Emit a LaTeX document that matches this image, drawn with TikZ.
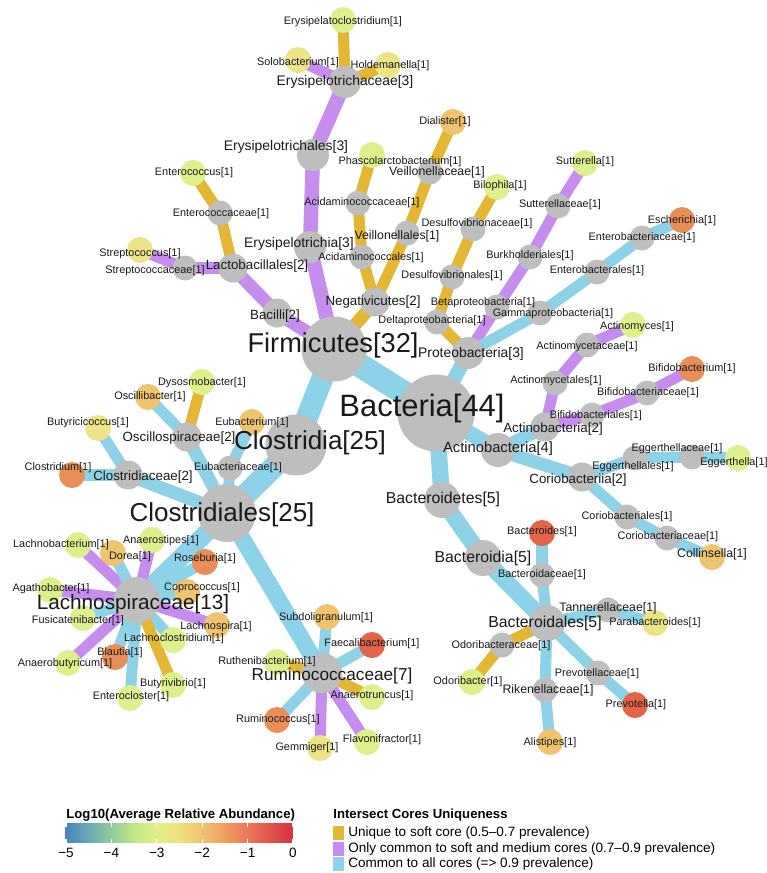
\documentclass[tikz,border=0pt]{standalone}
\usepackage{fontspec}
\setmainfont{Liberation Sans}
\usetikzlibrary{backgrounds}

\definecolor{nodegrey}{RGB}{190,190,190}
\definecolor{softcol}{RGB}{228,182,52}
\definecolor{medcol}{RGB}{198,140,240}
\definecolor{allcol}{RGB}{140,210,232}
\definecolor{abA}{RGB}{222,240,140}
\definecolor{abB}{RGB}{236,228,135}
\definecolor{abC}{RGB}{240,195,110}
\definecolor{abD}{RGB}{234,142,88}
\definecolor{abE}{RGB}{228,100,72}
\pgfdeclarehorizontalshading{abundance}{100bp}{rgb(0bp)=(0.27,0.52,0.75); rgb(25bp)=(0.27,0.52,0.75); rgb(30bp)=(0.40,0.66,0.72); rgb(35bp)=(0.55,0.80,0.60); rgb(40bp)=(0.75,0.90,0.52); rgb(45bp)=(0.88,0.94,0.54); rgb(50bp)=(0.94,0.88,0.48); rgb(55bp)=(0.95,0.76,0.44); rgb(60bp)=(0.94,0.62,0.38); rgb(65bp)=(0.92,0.47,0.34); rgb(70bp)=(0.88,0.33,0.29); rgb(75bp)=(0.84,0.20,0.25); rgb(100bp)=(0.84,0.20,0.25)}

\begin{document}
\begin{tikzpicture}[
    x=0.02cm, y=-0.02cm,
    taxon/.style={circle, inner sep=0pt, draw=none},
    g1/.style={taxon, fill=nodegrey, minimum size=0.5cm},
    g2/.style={taxon, fill=nodegrey, minimum size=0.58cm},
    g3/.style={taxon, fill=nodegrey, minimum size=0.64cm},
    g4/.style={taxon, fill=nodegrey, minimum size=0.68cm},
    g5/.style={taxon, fill=nodegrey, minimum size=0.72cm},
    g7/.style={taxon, fill=nodegrey, minimum size=0.8cm},
    g13/.style={taxon, fill=nodegrey, minimum size=0.92cm},
    g25/.style={taxon, fill=nodegrey, minimum size=1.22cm},
    g32/.style={taxon, fill=nodegrey, minimum size=1.3cm},
    g44/.style={taxon, fill=nodegrey, minimum size=1.54cm},
    leaf/.style={taxon, minimum size=0.52cm},
    leafA/.style={leaf, fill=abA},
    leafB/.style={leaf, fill=abB},
    leafC/.style={leaf, fill=abC},
    leafD/.style={leaf, fill=abD},
    leafE/.style={leaf, fill=abE},
    lab/.style={inner sep=0pt, text=black!90},
    t1/.style={lab, font=\fontsize{6.2}{7}\selectfont},
    t1b/.style={lab, font=\fontsize{7}{8}\selectfont},
    t2/.style={lab, font=\fontsize{7.6}{9}\selectfont},
    t3/.style={lab, font=\fontsize{7.9}{9}\selectfont},
    t4/.style={lab, font=\fontsize{8.4}{10}\selectfont},
    t5/.style={lab, font=\fontsize{9}{11}\selectfont},
    t7/.style={lab, font=\fontsize{9.8}{12}\selectfont},
    t13/.style={lab, font=\fontsize{11.8}{14}\selectfont},
    t25/.style={lab, font=\fontsize{14.8}{17}\selectfont},
    t32/.style={lab, font=\fontsize{15.5}{18}\selectfont},
    t44/.style={lab, font=\fontsize{17.6}{20}\selectfont},
    soft/.style={draw=softcol},
    medium/.style={draw=medcol},
    common/.style={draw=allcol},
    e1/.style={line width=6.3pt},
    e2/.style={line width=7.4pt},
    e3/.style={line width=8.2pt},
    e4/.style={line width=8.8pt},
    e5/.style={line width=9.4pt},
    e7/.style={line width=9.6pt},
    e13/.style={line width=10.4pt},
    e25/.style={line width=12.5pt},
    e32/.style={line width=13.7pt},
    legtitle/.style={inner sep=0pt, font=\bfseries\fontsize{7.5}{9}\selectfont},
    legtext/.style={inner sep=0pt, font=\fontsize{7.7}{9}\selectfont},
    legkey/.style={rectangle, inner sep=0pt, minimum width=0.22cm, minimum height=0.28cm}
]
\useasboundingbox (0,0) rectangle (767,873);

% kingdom and phyla
\node[g44] (bacteria) at (436,413) {};
\node[g32] (firmicutes) at (334,349) {};
\node[g3] (proteobacteria) at (468,353) {};
\node[g4] (actinobacteria) at (498,450) {};
\node[g5] (bacteroidetes) at (442,500) {};

% Clostridia
\node[g25] (clostridia) at (296,445) {};
\node[g25, minimum size=1.16cm] (clostridiales) at (227,513) {};
\node[g13] (lachnospiraceae) at (137,600) {};
\node[g7] (ruminococcaceae) at (322,673) {};
\node[g2] (oscillospiraceae) at (187,437) {};
\node[g2] (clostridiaceae) at (128,475) {};
\node[g1] (eubacteriaceae) at (230,468) {};
\node[leafC] (eubacterium) at (252,422) {};
\node[leafC] (oscillibacter) at (148,397) {};
\node[leafA] (dysosmobacter) at (202,382) {};
\node[leafB] (butyricicoccus) at (98,428) {};
\node[leafD] (clostridium) at (72,475) {};

% Lachnospiraceae genera
\node[leafA] (lachnobacterium) at (78,545) {};
\node[leafC] (dorea) at (113,553) {};
\node[leafA] (anaerostipes) at (152,540) {};
\node[leafD] (roseburia) at (205,562) {};
\node[leafA] (agathobacter) at (50,590) {};
\node[leafC] (coprococcus) at (187,592) {};
\node[leafA] (fusicatenibacter) at (83,618) {};
\node[leafC] (lachnospira) at (217,625) {};
\node[leafA] (lachnoclostridium) at (173,640) {};
\node[leafD] (blautia) at (115,657) {};
\node[leafA] (anaerobutyricum) at (68,663) {};
\node[leafA] (butyrivibrio) at (173,685) {};
\node[leafA] (enterocloster) at (130,698) {};

% Ruminococcaceae genera
\node[leafC] (subdoligranulum) at (327,617) {};
\node[leafE] (faecalibacterium) at (372,645) {};
\node[leafA] (ruthenibacterium) at (277,662) {};
\node[leafA] (anaerotruncus) at (372,697) {};
\node[leafD] (ruminococcus) at (277,720) {};
\node[leafB] (gemmiger) at (320,748) {};
\node[leafA] (flavonifractor) at (367,742) {};

% Bacilli
\node[g2] (bacilli) at (277,313) {};
\node[g2] (lactobacillales) at (233,268) {};
\node[g1] (streptococcaceae) at (185,268) {};
\node[leafB] (streptococcus) at (140,250) {};
\node[g1] (enterococcaceae) at (220,213) {};
\node[leafA] (enterococcus) at (193,173) {};

% Erysipelotrichia
\node[g3] (erysipelotrichia) at (310,247) {};
\node[g3] (erysipelotrichales) at (313,155) {};
\node[g3] (erysipelotrichaceae) at (345,82) {};
\node[leafB] (solobacterium) at (298,60) {};
\node[leafB] (holdemanella) at (388,65) {};
\node[leafA] (erysipelatoclostridium) at (343,20) {};

% Negativicutes
\node[g2] (negativicutes) at (375,302) {};
\node[g1] (acidaminococcales) at (362,257) {};
\node[g1] (acidaminococcaceae) at (358,203) {};
\node[leafA] (phascolarctobacterium) at (372,155) {};
\node[g1] (veillonellales) at (407,233) {};
\node[g1] (veillonellaceae) at (430,172) {};
\node[leafC] (dialister) at (453,122) {};

% Proteobacteria
\node[g1] (deltaproteobacteria) at (437,322) {};
\node[g1] (desulfovibrionales) at (452,277) {};
\node[g1] (desulfovibrionaceae) at (473,229) {};
\node[leafA] (bilophila) at (497,187) {};
\node[g1] (betaproteobacteria) at (497,307) {};
\node[g1] (burkholderiales) at (530,257) {};
\node[g1] (sutterellaceae) at (558,206) {};
\node[leafA] (sutterella) at (585,163) {};
\node[g1] (gammaproteobacteria) at (540,313) {};
\node[g1] (enterobacterales) at (597,272) {};
\node[g1] (enterobacteriaceae) at (642,238) {};
\node[leafD] (escherichia) at (682,220) {};

% Actinobacteria
\node[g2] (actinobacteriia) at (545,427) {};
\node[g1] (actinomycetales) at (555,383) {};
\node[g1] (actinomycetaceae) at (587,345) {};
\node[leafA] (actinomyces) at (633,325) {};
\node[g1] (bifidobacteriales) at (592,415) {};
\node[g1] (bifidobacteriaceae) at (647,393) {};
\node[leafD] (bifidobacterium) at (692,369) {};
\node[g2] (coriobacteriia) at (582,477) {};
\node[g1] (eggerthellales) at (635,458) {};
\node[g1] (eggerthellaceae) at (692,457) {};
\node[leafA] (eggerthella) at (738,458) {};
\node[g1] (coriobacteriales) at (627,517) {};
\node[g1] (coriobacteriaceae) at (667,538) {};
\node[leafC] (collinsella) at (712,557) {};

% Bacteroidetes
\node[g5] (bacteroidia) at (483,558) {};
\node[g5] (bacteroidales) at (547,623) {};
\node[g1] (bacteroidaceae) at (542,575) {};
\node[leafE] (bacteroides) at (542,533) {};
\node[g1] (tannerellaceae) at (608,610) {};
\node[leafB] (parabacteroides) at (655,623) {};
\node[g1] (odoribacteraceae) at (502,645) {};
\node[leafA] (odoribacter) at (472,682) {};
\node[g1] (rikenellaceae) at (545,690) {};
\node[leafC] (alistipes) at (550,742) {};
\node[g1] (prevotellaceae) at (598,673) {};
\node[leafE] (prevotella) at (635,705) {};

\begin{scope}[on background layer]
\draw[common, e32] (bacteria.center) -- (firmicutes.center);
\draw[common, e3] (bacteria.center) -- (proteobacteria.center);
\draw[common, e4] (bacteria.center) -- (actinobacteria.center);
\draw[common, e5] (bacteria.center) -- (bacteroidetes.center);
\draw[common, e25] (firmicutes.center) -- (clostridia.center);
\draw[common, e25] (clostridia.center) -- (clostridiales.center);
\draw[common, e13] (clostridiales.center) -- (lachnospiraceae.center);
\draw[common, e7] (clostridiales.center) -- (ruminococcaceae.center);
\draw[common, e2] (clostridiales.center) -- (oscillospiraceae.center);
\draw[common, e2] (clostridiales.center) -- (clostridiaceae.center);
\draw[common, e1] (clostridiales.center) -- (eubacteriaceae.center);
\draw[common, e1] (eubacteriaceae.center) -- (eubacterium.center);
\draw[common, e1] (oscillospiraceae.center) -- (oscillibacter.center);
\draw[soft, e1] (oscillospiraceae.center) -- (dysosmobacter.center);
\draw[common, e1] (clostridiaceae.center) -- (butyricicoccus.center);
\draw[common, e1] (clostridiaceae.center) -- (clostridium.center);
\draw[medium, e1] (lachnospiraceae.center) -- (lachnobacterium.center);
\draw[common, e1] (lachnospiraceae.center) -- (dorea.center);
\draw[medium, e1] (lachnospiraceae.center) -- (anaerostipes.center);
\draw[common, e1] (lachnospiraceae.center) -- (roseburia.center);
\draw[medium, e1] (lachnospiraceae.center) -- (agathobacter.center);
\draw[common, e1] (lachnospiraceae.center) -- (coprococcus.center);
\draw[common, e1] (lachnospiraceae.center) -- (fusicatenibacter.center);
\draw[medium, e1] (lachnospiraceae.center) -- (lachnospira.center);
\draw[common, e1] (lachnospiraceae.center) -- (lachnoclostridium.center);
\draw[common, e1] (lachnospiraceae.center) -- (blautia.center);
\draw[medium, e1] (lachnospiraceae.center) -- (anaerobutyricum.center);
\draw[soft, e1] (lachnospiraceae.center) -- (butyrivibrio.center);
\draw[common, e1] (lachnospiraceae.center) -- (enterocloster.center);
\draw[common, e1] (ruminococcaceae.center) -- (subdoligranulum.center);
\draw[common, e1] (ruminococcaceae.center) -- (faecalibacterium.center);
\draw[soft, e1] (ruminococcaceae.center) -- (ruthenibacterium.center);
\draw[soft, e1] (ruminococcaceae.center) -- (anaerotruncus.center);
\draw[common, e1] (ruminococcaceae.center) -- (ruminococcus.center);
\draw[medium, e1] (ruminococcaceae.center) -- (gemmiger.center);
\draw[medium, e1] (ruminococcaceae.center) -- (flavonifractor.center);
\draw[medium, e2] (firmicutes.center) -- (bacilli.center);
\draw[medium, e2] (bacilli.center) -- (lactobacillales.center);
\draw[medium, e1] (lactobacillales.center) -- (streptococcaceae.center);
\draw[medium, e1] (streptococcaceae.center) -- (streptococcus.center);
\draw[soft, e1] (lactobacillales.center) -- (enterococcaceae.center);
\draw[soft, e1] (enterococcaceae.center) -- (enterococcus.center);
\draw[medium, e3] (firmicutes.center) -- (erysipelotrichia.center);
\draw[medium, e3] (erysipelotrichia.center) -- (erysipelotrichales.center);
\draw[medium, e3] (erysipelotrichales.center) -- (erysipelotrichaceae.center);
\draw[medium, e1] (erysipelotrichaceae.center) -- (solobacterium.center);
\draw[soft, e1] (erysipelotrichaceae.center) -- (holdemanella.center);
\draw[soft, e1] (erysipelotrichaceae.center) -- (erysipelatoclostridium.center);
\draw[soft, e2] (firmicutes.center) -- (negativicutes.center);
\draw[soft, e1] (negativicutes.center) -- (acidaminococcales.center);
\draw[soft, e1] (acidaminococcales.center) -- (acidaminococcaceae.center);
\draw[soft, e1] (acidaminococcaceae.center) -- (phascolarctobacterium.center);
\draw[soft, e1] (negativicutes.center) -- (veillonellales.center);
\draw[soft, e1] (veillonellales.center) -- (veillonellaceae.center);
\draw[soft, e1] (veillonellaceae.center) -- (dialister.center);
\draw[soft, e1] (proteobacteria.center) -- (deltaproteobacteria.center);
\draw[soft, e1] (deltaproteobacteria.center) -- (desulfovibrionales.center);
\draw[soft, e1] (desulfovibrionales.center) -- (desulfovibrionaceae.center);
\draw[soft, e1] (desulfovibrionaceae.center) -- (bilophila.center);
\draw[medium, e1] (proteobacteria.center) -- (betaproteobacteria.center);
\draw[medium, e1] (betaproteobacteria.center) -- (burkholderiales.center);
\draw[medium, e1] (burkholderiales.center) -- (sutterellaceae.center);
\draw[medium, e1] (sutterellaceae.center) -- (sutterella.center);
\draw[common, e1] (proteobacteria.center) -- (gammaproteobacteria.center);
\draw[common, e1] (gammaproteobacteria.center) -- (enterobacterales.center);
\draw[common, e1] (enterobacterales.center) -- (enterobacteriaceae.center);
\draw[common, e1] (enterobacteriaceae.center) -- (escherichia.center);
\draw[common, e2] (actinobacteria.center) -- (actinobacteriia.center);
\draw[medium, e1] (actinobacteriia.center) -- (actinomycetales.center);
\draw[medium, e1] (actinomycetales.center) -- (actinomycetaceae.center);
\draw[medium, e1] (actinomycetaceae.center) -- (actinomyces.center);
\draw[medium, e1] (actinobacteriia.center) -- (bifidobacteriales.center);
\draw[medium, e1] (bifidobacteriales.center) -- (bifidobacteriaceae.center);
\draw[medium, e1] (bifidobacteriaceae.center) -- (bifidobacterium.center);
\draw[common, e2] (actinobacteria.center) -- (coriobacteriia.center);
\draw[common, e1] (coriobacteriia.center) -- (eggerthellales.center);
\draw[common, e1] (eggerthellales.center) -- (eggerthellaceae.center);
\draw[common, e1] (eggerthellaceae.center) -- (eggerthella.center);
\draw[common, e1] (coriobacteriia.center) -- (coriobacteriales.center);
\draw[common, e1] (coriobacteriales.center) -- (coriobacteriaceae.center);
\draw[common, e1] (coriobacteriaceae.center) -- (collinsella.center);
\draw[common, e5] (bacteroidetes.center) -- (bacteroidia.center);
\draw[common, e5] (bacteroidia.center) -- (bacteroidales.center);
\draw[common, e1] (bacteroidales.center) -- (bacteroidaceae.center);
\draw[common, e1] (bacteroidaceae.center) -- (bacteroides.center);
\draw[common, e1] (bacteroidales.center) -- (tannerellaceae.center);
\draw[common, e1] (tannerellaceae.center) -- (parabacteroides.center);
\draw[soft, e1] (bacteroidales.center) -- (odoribacteraceae.center);
\draw[soft, e1] (odoribacteraceae.center) -- (odoribacter.center);
\draw[common, e1] (bacteroidales.center) -- (rikenellaceae.center);
\draw[common, e1] (rikenellaceae.center) -- (alistipes.center);
\draw[common, e1] (bacteroidales.center) -- (prevotellaceae.center);
\draw[common, e1] (prevotellaceae.center) -- (prevotella.center);
\end{scope}

% labels
\node[t44] (bacteria-t) at (422,408) {Bacteria[44]};
\node[t32] (firmicutes-t) at (333,345) {Firmicutes[32]};
\node[t3] (proteobacteria-t) at (471,354) {Proteobacteria[3]};
\node[t4] (actinobacteria-t) at (498,449) {Actinobacteria[4]};
\node[t5] (bacteroidetes-t) at (443,499) {Bacteroidetes[5]};
\node[t25] (clostridia-t) at (310,443) {Clostridia[25]};
\node[t25] (clostridiales-t) at (222,515) {Clostridiales[25]};
\node[t13] (lachnospiraceae-t) at (133,604) {Lachnospiraceae[13]};
\node[t7] (ruminococcaceae-t) at (332,676) {Ruminococcaceae[7]};
\node[t2] (oscillospiraceae-t) at (179,438) {Oscillospiraceae[2]};
\node[t2] (clostridiaceae-t) at (143,477) {Clostridiaceae[2]};
\node[t1] (eubacteriaceae-t) at (238,468) {Eubacteriaceae[1]};
\node[t1] (eubacterium-t) at (252,423) {Eubacterium[1]};
\node[t1] (oscillibacter-t) at (150,397) {Oscillibacter[1]};
\node[t1] (dysosmobacter-t) at (202,383) {Dysosmobacter[1]};
\node[t1] (butyricicoccus-t) at (88,423) {Butyricicoccus[1]};
\node[t1] (clostridium-t) at (58,468) {Clostridium[1]};
\node[t1] (lachnobacterium-t) at (61,545) {Lachnobacterium[1]};
\node[t1] (dorea-t) at (130,557) {Dorea[1]};
\node[t1] (anaerostipes-t) at (161,541) {Anaerostipes[1]};
\node[t1] (roseburia-t) at (205,559) {Roseburia[1]};
\node[t1] (agathobacter-t) at (51,589) {Agathobacter[1]};
\node[t1] (coprococcus-t) at (202,588) {Coprococcus[1]};
\node[t1] (fusicatenibacter-t) at (78,621) {Fusicatenibacter[1]};
\node[t1] (lachnospira-t) at (216,627) {Lachnospira[1]};
\node[t1] (lachnoclostridium-t) at (174,639) {Lachnoclostridium[1]};
\node[t1] (blautia-t) at (120,653) {Blautia[1]};
\node[t1] (anaerobutyricum-t) at (65,664) {Anaerobutyricum[1]};
\node[t1] (butyrivibrio-t) at (173,684) {Butyrivibrio[1]};
\node[t1] (enterocloster-t) at (131,697) {Enterocloster[1]};
\node[t1] (subdoligranulum-t) at (326,618) {Subdoligranulum[1]};
\node[t1] (faecalibacterium-t) at (372,644) {Faecalibacterium[1]};
\node[t1] (ruthenibacterium-t) at (267,662) {Ruthenibacterium[1]};
\node[t1] (anaerotruncus-t) at (372,696) {Anaerotruncus[1]};
\node[t1] (ruminococcus-t) at (278,720) {Ruminococcus[1]};
\node[t1] (gemmiger-t) at (307,748) {Gemmiger[1]};
\node[t1] (flavonifractor-t) at (382,740) {Flavonifractor[1]};
\node[t2] (bacilli-t) at (275,316) {Bacilli[2]};
\node[t2] (lactobacillales-t) at (257,266) {Lactobacillales[2]};
\node[t1] (streptococcaceae-t) at (155,271) {Streptococcaceae[1]};
\node[t1] (streptococcus-t) at (140,254) {Streptococcus[1]};
\node[t1] (enterococcaceae-t) at (221,214) {Enterococcaceae[1]};
\node[t1] (enterococcus-t) at (194,173) {Enterococcus[1]};
\node[t3] (erysipelotrichia-t) at (299,244) {Erysipelotrichia[3]};
\node[t3] (erysipelotrichales-t) at (286,147) {Erysipelotrichales[3]};
\node[t3] (erysipelotrichaceae-t) at (345,82) {Erysipelotrichaceae[3]};
\node[t1] (solobacterium-t) at (298,63) {Solobacterium[1]};
\node[t1] (holdemanella-t) at (390,66) {Holdemanella[1]};
\node[t1] (erysipelatoclostridium-t) at (343,22) {Erysipelatoclostridium[1]};
\node[t2] (negativicutes-t) at (373,302) {Negativicutes[2]};
\node[t1] (acidaminococcales-t) at (371,258) {Acidaminococcales[1]};
\node[t1] (acidaminococcaceae-t) at (362,203) {Acidaminococcaceae[1]};
\node[t1] (phascolarctobacterium-t) at (400,162) {Phascolarctobacterium[1]};
\node[t1b] (veillonellales-t) at (397,236) {Veillonellales[1]};
\node[t1b] (veillonellaceae-t) at (437,172) {Veillonellaceae[1]};
\node[t1] (dialister-t) at (445,122) {Dialister[1]};
\node[t1] (deltaproteobacteria-t) at (432,321) {Deltaproteobacteria[1]};
\node[t1] (desulfovibrionales-t) at (452,276) {Desulfovibrionales[1]};
\node[t1] (desulfovibrionaceae-t) at (477,224) {Desulfovibrionaceae[1]};
\node[t1] (bilophila-t) at (500,186) {Bilophila[1]};
\node[t1] (betaproteobacteria-t) at (483,303) {Betaproteobacteria[1]};
\node[t1] (burkholderiales-t) at (530,256) {Burkholderiales[1]};
\node[t1] (sutterellaceae-t) at (560,205) {Sutterellaceae[1]};
\node[t1] (sutterella-t) at (585,162) {Sutterella[1]};
\node[t1] (gammaproteobacteria-t) at (553,314) {Gammaproteobacteria[1]};
\node[t1] (enterobacterales-t) at (597,271) {Enterobacterales[1]};
\node[t1] (enterobacteriaceae-t) at (642,238) {Enterobacteriaceae[1]};
\node[t1] (escherichia-t) at (682,221) {Escherichia[1]};
\node[t2] (actinobacteriia-t) at (553,429) {Actinobacteria[2]};
\node[t1] (actinomycetales-t) at (556,381) {Actinomycetales[1]};
\node[t1] (actinomycetaceae-t) at (587,347) {Actinomycetaceae[1]};
\node[t1] (actinomyces-t) at (637,327) {Actinomyces[1]};
\node[t1] (bifidobacteriales-t) at (596,416) {Bifidobacteriales[1]};
\node[t1] (bifidobacteriaceae-t) at (648,393) {Bifidobacteriaceae[1]};
\node[t1] (bifidobacterium-t) at (692,369) {Bifidobacterium[1]};
\node[t2] (coriobacteriia-t) at (578,480) {Coriobacteriia[2]};
\node[t1] (eggerthellales-t) at (633,467) {Eggerthellales[1]};
\node[t1] (eggerthellaceae-t) at (677,449) {Eggerthellaceae[1]};
\node[t1] (eggerthella-t) at (734,463) {Eggerthella[1]};
\node[t1] (coriobacteriales-t) at (627,517) {Coriobacteriales[1]};
\node[t1] (coriobacteriaceae-t) at (668,537) {Coriobacteriaceae[1]};
\node[t1b] (collinsella-t) at (712,554) {Collinsella[1]};
\node[t5] (bacteroidia-t) at (483,558) {Bacteroidia[5]};
\node[t5] (bacteroidales-t) at (545,623) {Bacteroidales[5]};
\node[t1] (bacteroidaceae-t) at (542,575) {Bacteroidaceae[1]};
\node[t1] (bacteroides-t) at (542,532) {Bacteroides[1]};
\node[t1b] (tannerellaceae-t) at (608,608) {Tannerellaceae[1]};
\node[t1] (parabacteroides-t) at (655,623) {Parabacteroides[1]};
\node[t1] (odoribacteraceae-t) at (501,646) {Odoribacteraceae[1]};
\node[t1] (odoribacter-t) at (468,682) {Odoribacter[1]};
\node[t1b] (rikenellaceae-t) at (548,690) {Rikenellaceae[1]};
\node[t1] (alistipes-t) at (550,743) {Alistipes[1]};
\node[t1] (prevotellaceae-t) at (597,674) {Prevotellaceae[1]};
\node[t1] (prevotella-t) at (636,705) {Prevotella[1]};

% legend: abundance colour bar
\node[legtitle, anchor=west] (abund-title) at (66,815) {Log10(Average Relative Abundance)};
\node[rectangle, inner sep=0pt, shading=abundance, minimum width=4.56cm, minimum height=0.38cm] (abund-bar) at (179,833) {};
\foreach \v [count=\k from 0] in {−5,−4,−3,−2,−1,0} {
    \draw[white, line width=0.6pt] ({66+45.4*\k},823) -- ++(0,4);
    \draw[white, line width=0.6pt] ({66+45.4*\k},843) -- ++(0,-4);
    \node[legtext] (abund-tick-\k) at ({66+45.4*\k},853) {\v};
}

% legend: core uniqueness
\node[legtitle, anchor=west] (core-title) at (333,815) {Intersect Cores Uniqueness};
\node[legkey, fill=softcol] (key-soft) at (338,833) {};
\node[legkey, fill=medcol] (key-medium) at (338,848.5) {};
\node[legkey, fill=allcol] (key-common) at (338,864) {};
\node[legtext, anchor=west] (key-soft-t) at (348,833) {Unique to soft core (0.5–0.7 prevalence)};
\node[legtext, anchor=west] (key-medium-t) at (348,848.5) {Only common to soft and medium cores (0.7–0.9 prevalence)};
\node[legtext, anchor=west] (key-common-t) at (348,864) {Common to all cores (=> 0.9 prevalence)};
\end{tikzpicture}
\end{document}
